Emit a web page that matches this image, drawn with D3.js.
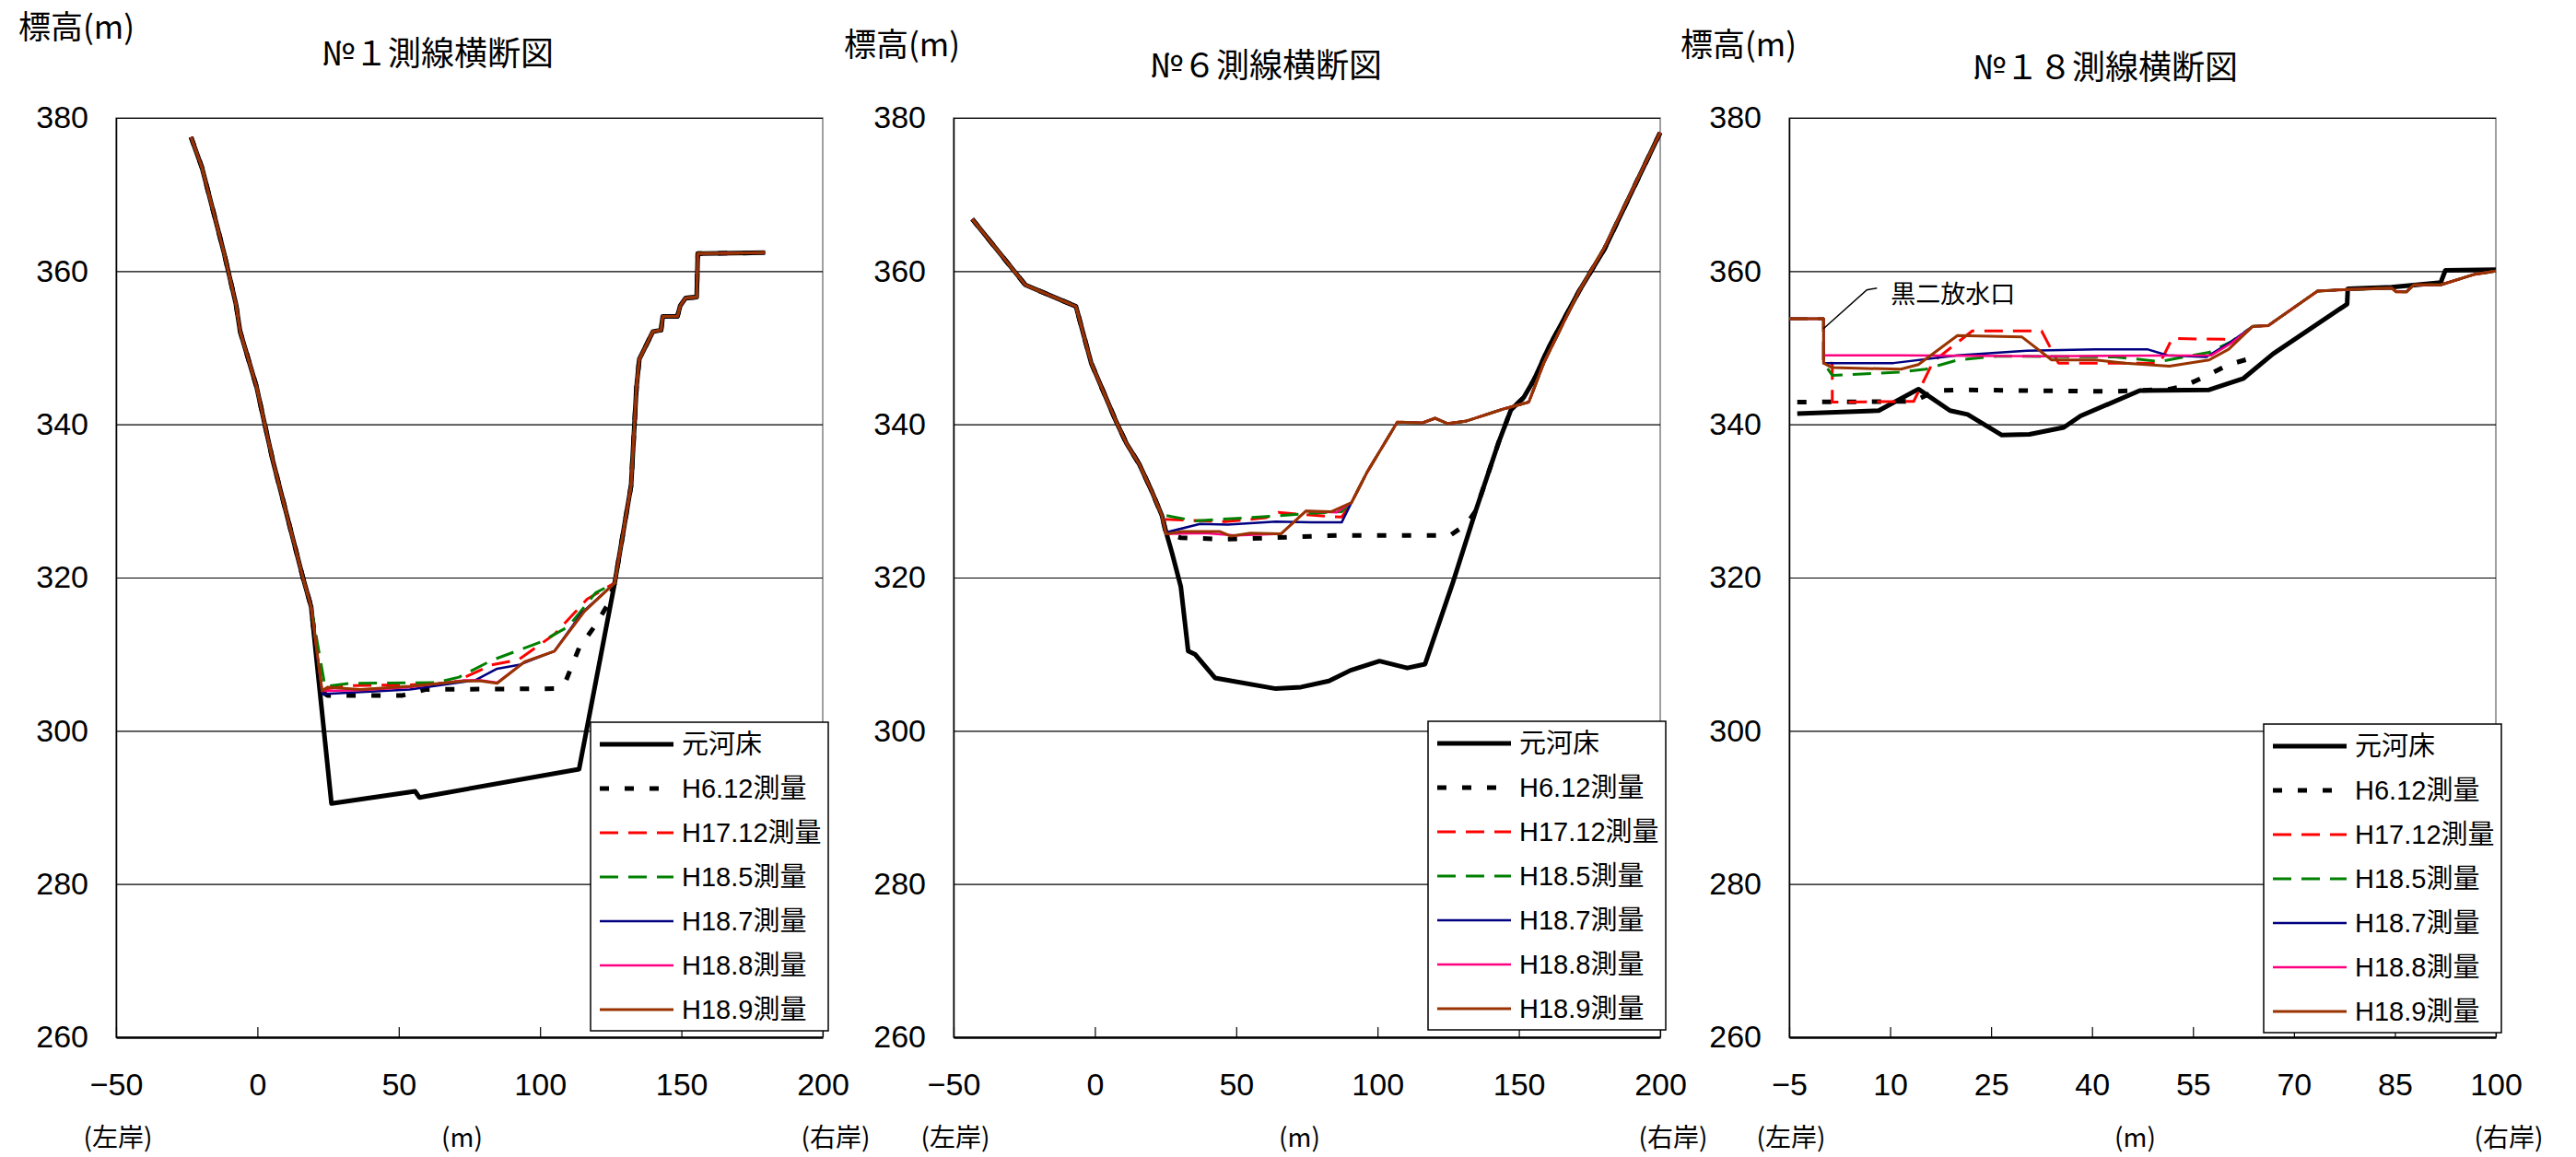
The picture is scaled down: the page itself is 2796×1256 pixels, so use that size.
<!DOCTYPE html>
<html>
<head>
<meta charset="utf-8">
<script src="https://cdn.jsdelivr.net/npm/d3@7"></script>
<style>
  html, body { margin: 0; padding: 0; background: #fff; }
  svg { display: block; }
</style>
</head>
<body>
<svg id="chart" width="2796" height="1256"></svg>
<script>
// ---- data (x: distance m, y: elevation m) ----
var seriesNames = ["元河床", "H6.12測量", "H17.12測量", "H18.5測量", "H18.7測量", "H18.8測量", "H18.9測量"];
var yTicks = [260, 280, 300, 320, 340, 360, 380];
var xTicksWide = [-50, 0, 50, 100, 150, 200];
var xTicksNo18 = [-5, 10, 25, 40, 55, 70, 85, 100];
var bankLabels = ["(左岸)", "(m)", "(右岸)"];
var unitLabel = "標高(m)";

// No.1
var no1LeftBank = [[-23.5,377.5],[-19.6,373.5],[-11.9,362.5],[-7.6,355.7],[-6.1,352.1],[-0.3,344.9],[2.6,340.0],[5.5,335.2],[16.1,320.0],[19.0,316.2]];
var no1RightBank = [[126.4,319.3],[132.2,332.0],[134.1,344.8],[135.1,348.5],[139.9,352.1],[142.8,352.3],[143.4,354.1],[148.6,354.1],[149.6,355.5],[151.5,356.5],[155.4,356.6],[155.8,362.3],[179.6,362.4]];
var no1Genka = [[26.2,290.5],[55.8,292.1],[57.3,291.3],[113.8,295.0]];
var no1H612 = [[22.5,305.2],[24.8,304.6],[51.0,304.6],[59.7,305.4],[105.1,305.5],[109.0,306.4],[113.8,310.8],[119.6,313.8],[123.5,316.2]];
var no1H1712 = [[22.9,305.4],[32.6,305.9],[53.9,306.0],[69.3,306.3],[82.9,308.6],[92.5,309.3],[105.1,312.6],[116.7,317.2]];
var no1H185 = [[23.9,305.8],[32.6,306.2],[63.5,306.3],[71.3,307.0],[82.9,309.2],[100.3,311.6],[110.0,313.6],[119.6,318.0]];
var no1H187 = [[22.9,304.8],[53.9,305.4],[77.1,306.6],[84.8,308.1],[92.5,308.6],[105.1,310.4],[114.8,315.4]];
var no1H188 = [[22.9,305.2],[36.4,305.3],[53.9,305.7],[73.2,306.6],[79.0,306.6],[84.8,306.3],[94.5,309.0],[105.1,310.4],[115.7,315.6]];
var no1H189 = [[22.9,305.2],[24.8,305.7],[36.4,305.4],[53.9,305.8],[73.2,306.5],[79.0,306.5],[84.8,306.2],[94.5,309.0],[105.1,310.4],[115.7,315.6]];

// No.6
var no6LeftBank = [[-43.4,366.8],[-24.6,358.2],[-6.7,355.4],[-1.3,348.0],[3.2,344.1],[7.6,340.3],[11.2,337.5],[15.7,334.8],[20.2,331.2],[23.7,328.1]];
var no6Genka = [[25.2,325.9],[27.3,323.2],[30.4,318.8],[33.0,310.4],[35.4,310.0],[42.5,306.9],[64.0,305.5],[72.9,305.7],[82.8,306.5],[90.5,307.9],[100.7,309.1],[110.5,308.2],[116.8,308.7],[126.6,319.3]];
var no6GenkaRight = [[134.7,328.7],[142.7,337.5],[147.2,341.9],[151.7,343.5],[155.3,345.8],[160.6,350.1],[171.3,357.4],[180.3,362.9],[200.0,378.1]];
var no6H612 = [[25.2,325.7],[30.4,325.2],[46.1,325.0],[55.0,325.1],[85.5,325.5],[125.7,325.5],[131.5,327.0]];
var no6Terrace = [[90.8,329.8],[96.2,333.7],[107.0,340.3],[115.9,340.2],[120.4,340.8],[124.8,340.1],[131.1,340.4],[144.5,342.0],[153.5,342.9],[158.8,348.0],[171.3,357.4],[180.3,363.1],[200.0,378.1]];
var no6H1712 = [[25.2,327.6],[46.1,327.3],[60.4,327.8],[64.9,328.5],[81.9,328.0],[87.3,327.9]];
var no6H185 = [[25.2,328.1],[35.4,327.4],[62.2,328.0],[76.5,328.4],[87.3,328.6]];
var no6H187 = [[25.2,325.9],[37.2,327.0],[47.0,326.9],[64.0,327.3],[76.5,327.2],[87.3,327.2]];
var no6H188 = [[25.2,325.7],[38.9,325.8],[49.7,325.5],[65.8,325.7],[74.7,328.7],[85.5,328.5]];
var no6H189 = [[25.2,325.7],[30.9,326.0],[44.3,326.0],[48.2,325.4],[55.0,325.8],[65.8,325.7],[74.7,328.7],[83.7,328.6]];

// No.18
var no18Outlet = [[-5.0,353.8],[0.1,353.8],[0.1,348.0]];
var no18Upper = [[60.3,349.8],[63.9,352.8],[66.2,352.9],[73.5,357.4],[77.9,357.6],[84.5,357.8],[85.2,357.3],[86.7,357.3],[87.8,358.2],[91.8,358.2],[96.9,359.6],[100.0,360.0]];
var no18Genka = [[-3.8,341.4],[8.3,341.8],[14.2,344.6],[18.9,341.8],[21.5,341.3],[26.6,338.6],[30.7,338.7],[35.8,339.6],[38.3,341.1],[47.1,344.4],[57.4,344.5],[62.5,346.0],[66.9,349.2],[77.9,355.7],[78.0,357.7],[84.5,357.9],[91.8,358.5],[92.5,360.1],[100.0,360.2]];
var no18H612 = [[-3.8,342.9],[13.5,343.0],[16.8,344.4],[20.0,344.5],[43.5,344.3],[51.5,344.6],[53.7,345.0],[56.7,346.2],[60.3,347.8],[64.3,348.8]];
var no18H1712 = [[1.4,348.0],[1.4,342.9],[13.5,343.0],[16.4,348.2],[22.2,352.2],[32.5,352.2],[35.0,348.0],[50.1,348.0],[51.9,351.2],[59.6,351.1],[61.4,351.0]];
var no18H185 = [[1.4,346.4],[11.3,346.8],[15.3,347.2],[20.0,348.4],[25.9,348.9],[43.5,348.8],[50.1,348.2],[57.4,349.4],[60.7,350.8]];
var no18H187 = [[1.4,348.0],[10.5,348.0],[20.0,349.0],[30.3,349.6],[40.5,349.8],[48.2,349.8],[51.2,349.0],[57.0,348.8],[60.7,350.8]];
var no18H188 = [[0.1,349.0],[11.3,349.0],[33.2,348.9],[57.7,349.0],[60.7,350.6]];
var no18H189 = [[1.4,347.4],[11.6,347.2],[14.2,347.8],[20.0,351.6],[29.6,351.4],[34.0,348.4],[40.5,348.4],[44.9,348.0],[51.5,347.6],[57.4,348.4]];
var no18Note = {text: "黒二放水口", at: [0.1, 352.5]};

// ---- styles ----
var seriesStyles = [
  {color: "#000000", width: 5,   dash: null},
  {color: "#000000", width: 5,   dash: "10,17"},
  {color: "#FF0000", width: 3,   dash: "20,11"},
  {color: "#008000", width: 3,   dash: "20,11"},
  {color: "#000080", width: 2.5, dash: null},
  {color: "#FF0080", width: 2.5, dash: null},
  {color: "#993300", width: 3,   dash: null}
];

var latin = "'Liberation Sans', 'Noto Sans CJK JP', sans-serif";
var cjk = "'Noto Sans CJK JP', sans-serif";
var plotTop = 128, plotBottom = 1126, plotW = 767;

var panels = [
  {
    title: "№１測線横断図", left: 126, titleX: 475, titleY: 55, unitX: 20, unitY: 26,
    xDomain: [-50, 200], xTicks: xTicksWide, legendTop: 784,
    lines: [
      no1LeftBank.concat(no1Genka, no1RightBank),
      no1LeftBank.concat(no1H612, no1RightBank),
      no1LeftBank.concat(no1H1712, no1RightBank),
      no1LeftBank.concat(no1H185, no1RightBank),
      no1LeftBank.concat(no1H187, no1RightBank),
      no1LeftBank.concat(no1H188, no1RightBank),
      no1LeftBank.concat(no1H189, no1RightBank)
    ]
  },
  {
    title: "№６測線横断図", left: 1035, titleX: 1374, titleY: 68, unitX: 916, unitY: 45,
    xDomain: [-50, 200], xTicks: xTicksWide, legendTop: 783,
    lines: [
      no6LeftBank.concat(no6Genka, no6GenkaRight),
      no6LeftBank.concat(no6H612, no6GenkaRight),
      no6LeftBank.concat(no6H1712, no6Terrace),
      no6LeftBank.concat(no6H185, no6Terrace),
      no6LeftBank.concat(no6H187, no6Terrace),
      no6LeftBank.concat(no6H188, no6Terrace),
      no6LeftBank.concat(no6H189, no6Terrace)
    ]
  },
  {
    title: "№１８測線横断図", left: 1942, titleX: 2285, titleY: 70, unitX: 1824, unitY: 45,
    xDomain: [-5, 100], xTicks: xTicksNo18, legendTop: 786,
    note: no18Note,
    lines: [
      no18Genka,
      no18H612,
      no18Outlet.concat(no18H1712, no18Upper.slice(1)),
      no18Outlet.concat(no18H185, no18Upper.slice(1)),
      no18Outlet.concat(no18H187, no18Upper.slice(1)),
      no18Outlet.concat(no18H188, no18Upper.slice(1)),
      no18Outlet.concat(no18H189, no18Upper)
    ]
  }
];

var svg = d3.select("#chart");
svg.append("rect").attr("width", 2796).attr("height", 1256).attr("fill", "#fff");

panels.forEach(function(p) {
  var x = d3.scaleLinear().domain(p.xDomain).range([p.left, p.left + plotW]);
  var y = d3.scaleLinear().domain([260, 380]).range([plotBottom, plotTop]);
  var g = svg.append("g");

  // plot frame
  g.append("rect")
    .attr("x", p.left).attr("y", plotTop)
    .attr("width", plotW).attr("height", plotBottom - plotTop)
    .attr("fill", "none").attr("stroke", "#808080").attr("stroke-width", 1.5);

  // gridlines + y labels
  var ya = g.append("g")
    .attr("transform", "translate(" + p.left + ",0)")
    .call(d3.axisLeft(y).tickValues(yTicks).tickSize(-plotW).tickSizeOuter(0).tickPadding(30));
  ya.selectAll(".tick line").attr("stroke", "#000").attr("stroke-width", 1.2);
  ya.select(".domain").attr("stroke", "#000").attr("stroke-width", 1.5);
  ya.selectAll("text").attr("font-family", latin).attr("font-size", 34).attr("fill", "#000");

  // x axis, ticks pointing inside
  var xa = g.append("g")
    .attr("transform", "translate(0," + plotBottom + ")")
    .call(d3.axisBottom(x).tickValues(p.xTicks).tickSize(-11).tickSizeOuter(0).tickPadding(39));
  xa.selectAll(".tick line").attr("stroke", "#000").attr("stroke-width", 1.2);
  xa.select(".domain").attr("stroke", "#000").attr("stroke-width", 2.5);
  xa.selectAll("text").attr("font-family", latin).attr("font-size", 34).attr("fill", "#000");

  // bank / unit labels under x axis
  var bankX = [p.left + 2, p.left + plotW / 2 - 8, p.left + plotW + 14];
  g.selectAll("text.bank").data(bankLabels).enter().append("text")
    .attr("class", "bank")
    .attr("x", function(d, i) { return bankX[i]; })
    .attr("y", 1233)
    .attr("dominant-baseline", "central")
    .attr("text-anchor", "middle")
    .attr("font-family", cjk).attr("font-size", 28)
    .text(function(d) { return d; });

  // titles
  g.append("text")
    .attr("x", p.titleX).attr("y", p.titleY)
    .attr("text-anchor", "middle").attr("dominant-baseline", "central")
    .attr("font-family", cjk).attr("font-size", 36)
    .text(p.title);
  g.append("text")
    .attr("x", p.unitX).attr("y", p.unitY)
    .attr("dominant-baseline", "central")
    .attr("font-family", cjk).attr("font-size", 35)
    .text(unitLabel);

  // series
  var line = d3.line().x(function(d) { return x(d[0]); }).y(function(d) { return y(d[1]); });
  g.selectAll("path.series").data(p.lines).enter().append("path")
    .attr("class", "series")
    .attr("d", line)
    .attr("fill", "none")
    .attr("stroke", function(d, i) { return seriesStyles[i].color; })
    .attr("stroke-width", function(d, i) { return seriesStyles[i].width; })
    .attr("stroke-dasharray", function(d, i) { return seriesStyles[i].dash; })
    .attr("stroke-linejoin", "round");

  // annotation
  if (p.note) {
    var ax = x(p.note.at[0]), ay = y(p.note.at[1]);
    g.append("polyline")
      .attr("points", [[ax, ay], [ax + 47, ay - 42], [ax + 58, ay - 44]].map(function(q) { return q.join(","); }).join(" "))
      .attr("fill", "none").attr("stroke", "#000").attr("stroke-width", 1.5);
    g.append("text")
      .attr("x", ax + 73).attr("y", ay - 39)
      .attr("dominant-baseline", "central")
      .attr("font-family", cjk).attr("font-size", 27)
      .text(p.note.text);
  }

  // legend
  var lx = p.left + plotW + 6 - 258, ly = p.legendTop;
  var lg = g.append("g");
  lg.append("rect")
    .attr("x", lx).attr("y", ly).attr("width", 258).attr("height", 335)
    .attr("fill", "#fff").attr("stroke", "#000").attr("stroke-width", 1.5);
  var items = lg.selectAll("g.item").data(seriesNames).enter().append("g")
    .attr("class", "item")
    .attr("transform", function(d, i) { return "translate(" + lx + "," + (ly + 24 + i * 48) + ")"; });
  items.append("line")
    .attr("x1", 10).attr("x2", 90).attr("y1", 0).attr("y2", 0)
    .attr("stroke", function(d, i) { return seriesStyles[i].color; })
    .attr("stroke-width", function(d, i) { return seriesStyles[i].width; })
    .attr("stroke-dasharray", function(d, i) { return seriesStyles[i].dash; });
  items.append("text")
    .attr("x", 99).attr("y", 0)
    .attr("dominant-baseline", "central")
    .attr("font-family", latin).attr("font-size", 29)
    .text(function(d) { return d; });
});
</script>
</body>
</html>
